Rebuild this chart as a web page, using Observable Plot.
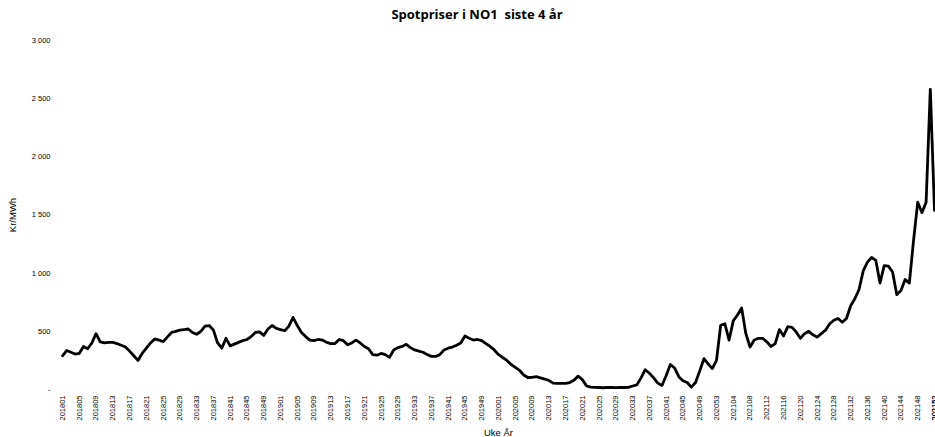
<!DOCTYPE html>
<html>
<head>
<meta charset="utf-8">
<script src="https://cdn.jsdelivr.net/npm/d3@7"></script>
<script src="https://cdn.jsdelivr.net/npm/@observablehq/plot@0.6"></script>
<style>
  html, body { margin: 0; padding: 0; background: #fff; }
  #title { width: 935px; height: 28px; line-height: 28px; text-align: center; box-sizing: border-box; padding-left: 19px;
           font-family: "Open Sans", "Liberation Sans", sans-serif; font-weight: bold; font-size: 13px; color: #000; }
  #chart svg { display: block; }
</style>
</head>
<body>
<div id="title">Spotpriser i NO1&nbsp; siste 4 år</div>
<div id="chart"></div>
<script>
// Years and number of weeks in each year (2020 has 53 ISO weeks)
const years = [2018, 2019, 2020, 2021];
const weeksPerYear = [52, 52, 53, 52];

// Weekly spot price NO1, kr/MWh
const prices2018 = [290,335,320,305,310,370,350,400,480,410,400,405,405,395,380,365,330,290,250,310,355,400,435,425,410,450,490,500,510,515,520,490,475,500,545,550,510,400,355,440,375,390,405,420,430,455,490,495,465,520,550,525];
const prices2019 = [515,505,545,620,550,490,455,425,420,430,425,405,395,395,430,420,385,400,425,400,370,350,300,295,310,300,276,340,360,370,388,360,340,330,320,300,285,284,300,340,355,365,380,400,460,440,425,430,420,395,370,340];
const prices2020 = [300,275,250,215,190,165,125,103,105,110,100,90,78,55,52,52,52,60,80,115,85,30,20,18,17,15,18,17,16,18,17,18,30,40,100,170,140,100,55,35,120,215,185,110,75,60,20,60,160,265,220,180,250];
const prices2021 = [552,565,425,590,640,700,480,365,425,440,440,410,370,395,515,460,540,535,495,440,480,500,470,450,480,510,565,595,610,578,610,720,780,860,1020,1095,1135,1110,915,1065,1060,1010,815,850,945,915,1280,1610,1520,1610,2580,1540];

// Y axis tick values
const yTicks = [0, 500, 1000, 1500, 2000, 2500, 3000];

// Category labels "ÅÅÅÅUU"
const weekLabels = [];
years.forEach((y, k) => {
  for (let w = 1; w <= weeksPerYear[k]; w++) weekLabels.push(`${y}${String(w).padStart(2, "0")}`);
});
const prices = [...prices2018, ...prices2019, ...prices2020, ...prices2021];
const data = prices.map((v, i) => ({i, label: weekLabels[i], value: v}));
const xTicks = weekLabels.map((_, i) => i).filter(i => i % 4 === 0).concat([weekLabels.length - 1]);

const fmtY = v => v === 0 ? "-" : d3.format(",")(v).replace(/,/g, " ");
const font = "'Liberation Sans Narrow', 'Liberation Sans', sans-serif";

const chart = Plot.plot({
  width: 935,
  height: 409,
  marginTop: 12,
  marginBottom: 48,
  marginLeft: 62,
  marginRight: 1,
  style: {fontFamily: font, color: "#000", background: "#fff"},
  x: {domain: [0, weekLabels.length - 1]},
  y: {domain: [0, 3000]},
  marks: [
    Plot.axisY({ticks: yTicks, tickFormat: fmtY, tickSize: 0, tickPadding: 12, fontSize: 7.5, label: null}),
    Plot.axisY({ticks: [], label: "Kr/MWh", labelAnchor: "center", labelArrow: "none", labelOffset: 53,
                fontSize: 9.5, fontFamily: "'Liberation Sans', sans-serif"}),
    Plot.axisX({ticks: xTicks, tickFormat: i => weekLabels[i], tickSize: 0, tickPadding: 6, tickRotate: -90, fontSize: 7.5, label: null}),
    Plot.axisX({ticks: [], label: "Uke År", labelAnchor: "center", labelArrow: "none", labelOffset: 46,
                fontSize: 9.5, fontFamily: "'Liberation Sans', sans-serif"}),
    Plot.line(data, {x: "i", y: "value", stroke: "#000", strokeWidth: 2.8, strokeLinejoin: "round"})
  ]
});
document.getElementById("chart").appendChild(chart);
</script>
</body>
</html>
